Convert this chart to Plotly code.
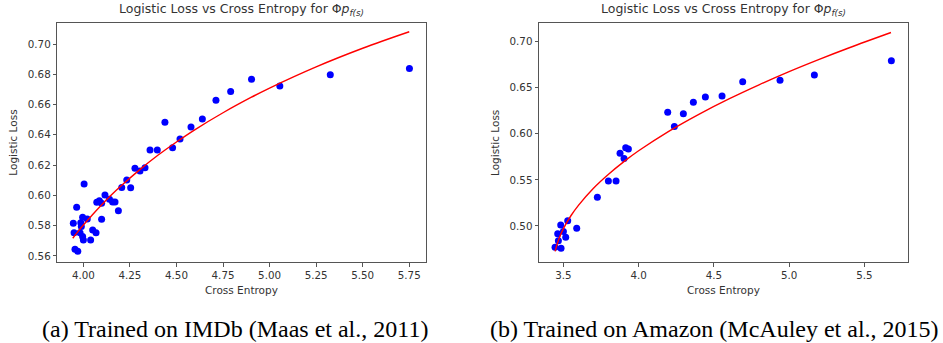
import plotly.graph_objects as go

# ---------------- data ----------------
imdb_ce = [3.946, 3.950, 3.964, 3.955, 3.970, 3.986, 3.996, 4.004, 4.021, 3.982,
           3.996, 4.000, 4.039, 4.050, 4.068, 4.072, 4.086, 4.098, 4.098, 4.116,
           4.140, 4.157, 4.170, 4.188, 4.206, 4.233, 4.254, 4.277, 4.304, 4.331,
           4.358, 4.397, 4.438, 4.479, 4.519, 4.578, 4.639, 4.712, 4.791, 4.903,
           5.055, 5.326, 5.751, 3.989]
imdb_ll = [0.5816, 0.5754, 0.5921, 0.5644, 0.5631, 0.5820, 0.5855, 0.6075, 0.5844, 0.5754,
           0.5728, 0.5706, 0.5706, 0.5772, 0.5754, 0.5954, 0.5965, 0.5948, 0.5842, 0.6003,
           0.5974, 0.5957, 0.5957, 0.5899, 0.6053, 0.6102, 0.6051, 0.6179, 0.6161, 0.6183,
           0.6300, 0.6300, 0.6483, 0.6315, 0.6373, 0.6452, 0.6505, 0.6628, 0.6687, 0.6767,
           0.6723, 0.6797, 0.6839, 0.5794]
imdb_fit_ce = [3.943, 3.97, 4.0, 4.05, 4.1, 4.15, 4.2, 4.3, 4.4, 4.5, 4.6, 4.75, 4.9,
               5.0, 5.25, 5.5, 5.75]
imdb_fit_ll = [0.5717, 0.5759, 0.5804, 0.5874, 0.5940, 0.6002, 0.6060, 0.6167, 0.6265,
               0.6353, 0.6435, 0.6546, 0.6647, 0.6709, 0.6849, 0.6972, 0.7081]

amz_ce = [3.4446, 3.4845, 3.4668, 3.4623, 3.4823, 3.5000, 3.5155, 3.5288, 3.5886, 3.7259,
          3.7990, 3.8500, 3.8765, 3.9031, 3.9142, 3.9319, 4.1932, 4.2375, 4.2973, 4.3638,
          4.4435, 4.5543, 4.6916, 4.9396, 5.1678, 5.6794]
amz_ll = [0.4769, 0.4758, 0.4841, 0.4917, 0.5011, 0.4939, 0.4877, 0.5058, 0.4975, 0.5311,
          0.5488, 0.5488, 0.5788, 0.5731, 0.5850, 0.5835, 0.6233, 0.6078, 0.6219, 0.6342,
          0.6400, 0.6411, 0.6566, 0.6580, 0.6638, 0.6794]
amz_fit_ce = [3.445, 3.47, 3.5, 3.55, 3.6, 3.7, 3.8, 3.9, 4.0, 4.2, 4.4, 4.6, 4.8, 5.0,
              5.2, 5.4, 5.677]
amz_fit_ll = [0.4724, 0.4858, 0.4971, 0.5111, 0.5224, 0.5410, 0.5562, 0.5696, 0.5816,
              0.6027, 0.6212, 0.6379, 0.6532, 0.6675, 0.6808, 0.6934, 0.7099]

imdb_xticks = [4.00, 4.25, 4.50, 4.75, 5.00, 5.25, 5.50, 5.75]
imdb_yticks = [0.56, 0.58, 0.60, 0.62, 0.64, 0.66, 0.68, 0.70]
amz_xticks = [3.5, 4.0, 4.5, 5.0, 5.5]
amz_yticks = [0.50, 0.55, 0.60, 0.65, 0.70]

title_text = "Logistic Loss vs Cross Entropy for Φ<i>p</i><sub><i>f(s)</i></sub>"
x_label = "Cross Entropy"
y_label = "Logistic Loss"
captions = ["(a) Trained on IMDb (Maas et al., 2011)",
            "(b) Trained on Amazon (McAuley et al., 2015)"]

# ---------------- figure ----------------
W, H = 943, 343
FONT = "DejaVu Sans, Arial, sans-serif"
TXT = "#333333"

fig = go.Figure()
marker = dict(color="#0000ff", size=7, line=dict(width=0))
line = dict(color="#ff0000", width=1.4, shape="spline")

fig.add_trace(go.Scatter(x=imdb_ce, y=imdb_ll, mode="markers", marker=marker,
                         xaxis="x", yaxis="y", showlegend=False))
fig.add_trace(go.Scatter(x=imdb_fit_ce, y=imdb_fit_ll, mode="lines", line=line,
                         xaxis="x", yaxis="y", showlegend=False))
fig.add_trace(go.Scatter(x=amz_ce, y=amz_ll, mode="markers", marker=marker,
                         xaxis="x2", yaxis="y2", showlegend=False))
fig.add_trace(go.Scatter(x=amz_fit_ce, y=amz_fit_ll, mode="lines", line=line,
                         xaxis="x2", yaxis="y2", showlegend=False))


def px_x(p):
    return p / W


def px_y(p):
    return (H - p) / H


dom_y = [px_y(262.3), px_y(23.3)]
ax_common = dict(showgrid=False, zeroline=False, showline=True, mirror=True,
                 linecolor="#555555", linewidth=1, ticks="outside", ticklen=3.5,
                 tickwidth=1, tickcolor="#555555",
                 tickfont=dict(family=FONT, size=10.3, color=TXT))

fig.update_layout(
    width=W, height=H,
    margin=dict(l=0, r=0, t=0, b=0),
    paper_bgcolor="white", plot_bgcolor="white",
    xaxis=dict(domain=[px_x(57.3), px_x(426)], range=[3.860, 5.840],
               tickvals=imdb_xticks, tickformat=".2f", anchor="y", **ax_common),
    yaxis=dict(domain=dom_y, range=[0.5558, 0.7137],
               tickvals=imdb_yticks, tickformat=".2f", anchor="x", **ax_common),
    xaxis2=dict(domain=[px_x(539), px_x(907.7)], range=[3.338, 5.788],
                tickvals=amz_xticks, tickformat=".1f", anchor="y2", **ax_common),
    yaxis2=dict(domain=dom_y, range=[0.4606, 0.7199],
                tickvals=amz_yticks, tickformat=".2f", anchor="x2", **ax_common),
)

annots = []
for cx in (241.7, 723.4):
    annots.append(dict(text=title_text, x=px_x(cx), y=px_y(10), xref="paper", yref="paper",
                       showarrow=False, xanchor="center", yanchor="middle",
                       font=dict(family=FONT, size=12.5, color=TXT)))
    annots.append(dict(text=x_label, x=px_x(cx), y=px_y(290), xref="paper", yref="paper",
                       showarrow=False, xanchor="center", yanchor="middle",
                       font=dict(family=FONT, size=10.5, color=TXT)))
for lx in (12.7, 495):
    annots.append(dict(text=y_label, x=px_x(lx), y=px_y(143), xref="paper", yref="paper",
                       showarrow=False, xanchor="center", yanchor="middle", textangle=-90,
                       font=dict(family=FONT, size=10.5, color=TXT)))
for cx, cap in zip((234.5, 714.7), captions):
    annots.append(dict(text=cap, x=px_x(cx), y=px_y(329), xref="paper", yref="paper",
                       showarrow=False, xanchor="center", yanchor="middle",
                       font=dict(family="Liberation Serif, Times New Roman, serif",
                                 size=24, color="#000000")))
fig.update_layout(annotations=annots)

fig.write_html("out.html",
               config={"displayModeBar": False},
               post_script="document.body.style.margin='0';document.body.style.overflow='hidden';")
